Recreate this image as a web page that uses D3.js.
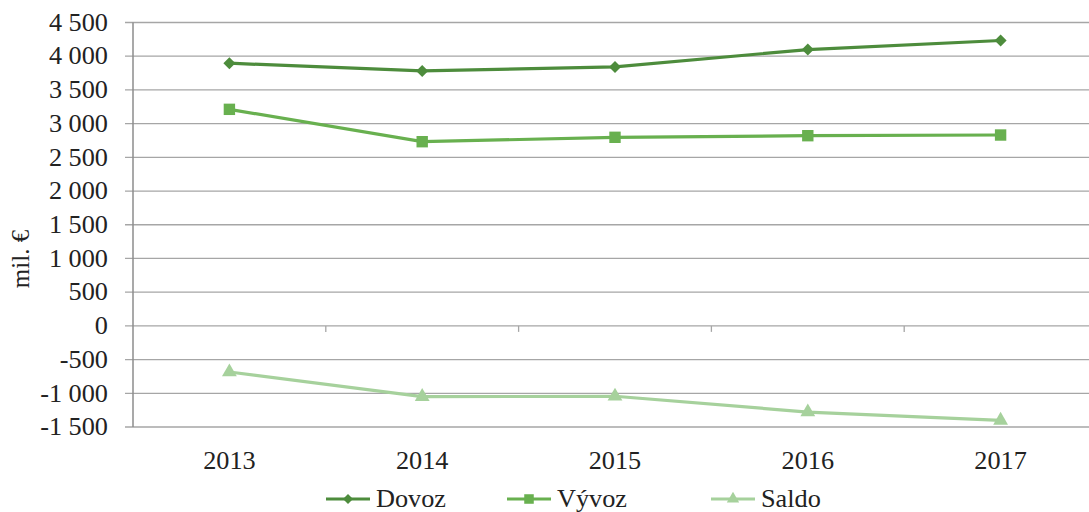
<!DOCTYPE html>
<html>
<head>
<meta charset="utf-8">
<script src="https://cdn.jsdelivr.net/npm/d3@7"></script>
<style>
  body { margin: 0; background: #fff; }
  svg text { font-family: "Liberation Serif", "Times New Roman", serif; fill: #222; }
</style>
</head>
<body>
<script>
// years on the category axis
var years = ["2013", "2014", "2015", "2016", "2017"];
// values, mil. €
var dovoz = [3896, 3782, 3841, 4099, 4233];
var vyvoz = [3212, 2732, 2797, 2821, 2831];
var saldo = [-684, -1050, -1044, -1278, -1402];
var yTicks = [-1500, -1000, -500, 0, 500, 1000, 1500, 2000, 2500, 3000, 3500, 4000, 4500];
var seriesNames = ["Dovoz", "Vývoz", "Saldo"];

var width = 1089, height = 512;
var plotLeft = 133, plotRight = 1097, plotTop = 22.5, plotBottom = 427;
var fontSize = "25px";
var sx = 1.05;

var svg = d3.select("body").append("svg")
  .attr("width", width)
  .attr("height", height);

var x = d3.scaleBand().domain(years).range([plotLeft, plotRight]);
var y = d3.scaleLinear().domain([-1500, 4500]).range([plotBottom, plotTop]);

var fmt = function(v){
  // space as thousands separator
  var s = Math.abs(v).toString().replace(/\B(?=(\d{3})+(?!\d))/g, " ");
  return (v < 0 ? "-" : "") + s;
};

// stretch text a bit horizontally, the reference glyphs are wide
function stretch(sel, k){
  sel.each(function(){
    var t = d3.select(this);
    var tx = +t.attr("x") || 0;
    t.attr("transform", "translate(" + tx + ",0) scale(" + k + ",1) translate(" + (-tx) + ",0)");
  });
}

// gridlines
svg.append("g").selectAll("line")
  .data(yTicks)
  .enter().append("line")
  .attr("x1", plotLeft - 8).attr("x2", plotRight)
  .attr("y1", function(d){ return y(d); })
  .attr("y2", function(d){ return y(d); })
  .attr("stroke", "#a6a6a6")
  .attr("stroke-width", 1.3);

// y axis labels
svg.append("g").selectAll("text")
  .data(yTicks)
  .enter().append("text")
  .attr("x", 108)
  .attr("y", function(d){ return y(d); })
  .attr("dy", "0.33em")
  .attr("text-anchor", "end")
  .style("font-size", fontSize)
  .text(fmt)
  .call(stretch, sx);

// vertical axis line
svg.append("line")
  .attr("x1", plotLeft).attr("x2", plotLeft)
  .attr("y1", plotTop).attr("y2", plotBottom)
  .attr("stroke", "#8c8c8c").attr("stroke-width", 1.5);

// ticks between categories on the zero line
var xBounds = years.slice(1).map(function(d){ return x(d); });
svg.append("g").selectAll("line")
  .data(xBounds)
  .enter().append("line")
  .attr("x1", function(d){ return d; }).attr("x2", function(d){ return d; })
  .attr("y1", y(0)).attr("y2", y(0) + 6)
  .attr("stroke", "#a6a6a6").attr("stroke-width", 1.3);

// category labels at the bottom
svg.append("g").selectAll("text")
  .data(years)
  .enter().append("text")
  .attr("x", function(d){ return x(d) + x.bandwidth() / 2; })
  .attr("y", 469)
  .attr("text-anchor", "middle")
  .style("font-size", fontSize)
  .text(function(d){ return d; })
  .call(stretch, sx);

// y axis title
svg.append("text")
  .attr("transform", "translate(29,259) rotate(-90)")
  .attr("text-anchor", "middle")
  .style("font-size", fontSize)
  .text("mil. €");

var series = [
  { name: seriesNames[0], values: dovoz, color: "#4d8c3c", symbol: d3.symbolSquare, rot: 45, size: 72 },
  { name: seriesNames[1], values: vyvoz, color: "#68b04f", symbol: d3.symbolSquare, rot: 0, size: 130 },
  { name: seriesNames[2], values: saldo, color: "#a6d19c", symbol: d3.symbolTriangle, rot: 0, size: 95 }
];

var line = d3.line()
  .x(function(d, i){ return x(years[i]) + x.bandwidth() / 2; })
  .y(function(d){ return y(d); });

series.forEach(function(s){
  svg.append("path")
    .datum(s.values)
    .attr("d", line)
    .attr("fill", "none")
    .attr("stroke", s.color)
    .attr("stroke-width", 3.2);

  svg.append("g").selectAll("path")
    .data(s.values)
    .enter().append("path")
    .attr("transform", function(d, i){
      return "translate(" + (x(years[i]) + x.bandwidth() / 2) + "," + y(d) + ") rotate(" + s.rot + ")";
    })
    .attr("d", d3.symbol().type(s.symbol).size(s.size))
    .attr("fill", s.color);
});

// legend
var legendX = [326, 507, 711];
var legend = svg.append("g").selectAll("g")
  .data(series)
  .enter().append("g")
  .attr("transform", function(d, i){ return "translate(" + legendX[i] + ",499)"; });

legend.append("line")
  .attr("x1", 0).attr("x2", 44)
  .attr("stroke", function(d){ return d.color; })
  .attr("stroke-width", 3.2);
legend.append("path")
  .attr("transform", function(d){ return "translate(22,0) rotate(" + d.rot + ")"; })
  .attr("d", function(d){ return d3.symbol().type(d.symbol).size(d.size * 0.7)(); })
  .attr("fill", function(d){ return d.color; });
legend.append("text")
  .attr("x", 50)
  .attr("y", 0)
  .attr("dy", "0.33em")
  .style("font-size", fontSize)
  .text(function(d){ return d.name; })
  .call(stretch, sx);
</script>
</body>
</html>
